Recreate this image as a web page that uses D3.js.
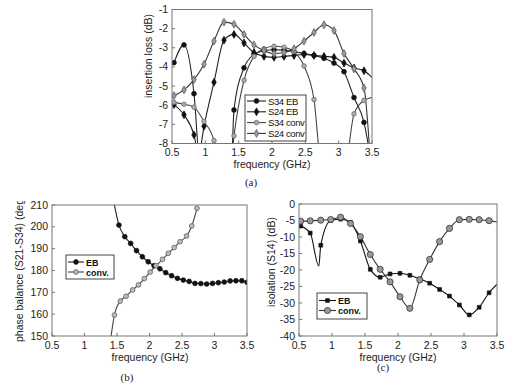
<!DOCTYPE html>
<html>
<head>
<meta charset="utf-8">
<script src="https://cdn.jsdelivr.net/npm/d3@7"></script>
<style>
  body { margin: 0; background: #fff; }
  svg { display: block; font-family: "Liberation Sans", Arial, sans-serif; }
  .tick-label { font-size: 10.5px; fill: #222; }
  .axis-title { font-size: 10.5px; fill: #222; }
  .panel-label { font-family: "Liberation Serif", "Times New Roman", serif; font-size: 11px; fill: #222; }
</style>
</head>
<body>
<svg id="chart" width="517" height="387"></svg>
<script>
// ---- data ----
// (a) insertion loss, markers every ~0.15 GHz
const freqA = [0.53, 0.68, 0.83, 0.98, 1.13, 1.28, 1.43, 1.58, 1.73, 1.88, 2.03, 2.18, 2.33, 2.48, 2.63, 2.78, 2.93, 3.08, 3.23, 3.38];
const s34EB   = [-3.78, -2.85, -5.4, null, null, null, -6.25, -4.05, -3.35, -3.15, -3.1, -3.12, -3.2, -3.3, -3.4, -3.55, -3.8, -4.25, -5.6, -6.9];
const s24EB   = [-5.97, -6.5, -7.55, -7.1, -4.8, -2.6, -2.3, -2.75, -3.25, -3.45, -3.5, -3.45, -3.4, -3.35, -3.4, -3.45, -3.5, -3.8, -4.05, -4.2];
const s34conv = [-5.85, -5.95, -6.1, -6.85, -7.85, null, -7.6, -4.7, -3.45, -3.05, -2.92, -2.97, -3.2, -3.95, -5.7, null, null, null, -6.45, -5.75];
const s24conv = [-5.5, -5.2, -4.66, -3.86, -2.65, -1.66, -1.77, -2.3, -2.85, -3.15, -3.3, -3.25, -3.05, -2.65, -2.2, -1.8, -2.1, -3.3, -4.1, -5.1];
// points where the curves leave the plot / end (no marker)
const s34EBOff   = [[0.92, -9], [1.39, -9], [3.47, -8.6]];
const s24EBOff   = [[0.9, -8.6], [3.5, -4.55]];
const s34convOff = [[1.2, -9.5], [1.37, -9.5], [2.74, -9], [3.1, -9], [3.5, -5.6]];
const s24convOff = [[3.47, -8.6]];

// (b) phase balance
const freqBeb   = [1.53, 1.62, 1.71, 1.80, 1.89, 1.98, 2.07, 2.16, 2.25, 2.34, 2.43, 2.52, 2.61, 2.70, 2.79, 2.88, 2.97, 3.06, 3.15, 3.24, 3.33, 3.42, 3.50];
const phaseEB   = [200.8, 195.5, 192.4, 189.1, 186.3, 184.0, 182.2, 180.8, 179.0, 177.6, 176.4, 175.6, 175.0, 174.1, 174.0, 173.8, 174.1, 174.4, 174.7, 175.2, 175.3, 175.3, 174.6];
const freqBconv = [1.46, 1.55, 1.64, 1.74, 1.83, 1.92, 2.01, 2.10, 2.20, 2.29, 2.38, 2.47, 2.57, 2.65, 2.73];
const phaseConv = [159.6, 166.0, 168.2, 171.1, 173.4, 176.3, 179.3, 182.2, 185.1, 187.9, 190.5, 193.2, 195.8, 200.4, 208.5];
const phaseEBOff   = [[1.44, 213]];
const phaseConvOff = [[1.40, 148]];

// (c) isolation
const freqC   = [0.525, 0.67, 0.83, 0.98, 1.13, 1.28, 1.43, 1.58, 1.73, 1.88, 2.03, 2.18, 2.33, 2.48, 2.63, 2.78, 2.93, 3.08, 3.23, 3.38];
const isoEB   = [-6.7, -8.8, -12.5, -5.0, -4.6, -5.6, -11.2, -19.8, -22.2, -21.2, -21.0, -21.6, -22.7, -24.0, -25.9, -27.9, -30.6, -33.6, -31.3, -26.9];
const isoConv = [-5.2, -5.1, -4.9, -4.7, -4.0, -5.9, -9.9, -15.3, -19.8, -23.6, -28.1, -31.6, -23.0, -16.8, -11.4, -7.4, -4.75, -4.65, -4.75, -5.05];
const isoEBOff   = [[0.8, -18.8], [3.5, -24.3]];
const isoConvOff = [[3.5, -5.45]];

const xTicks = [0.5, 1, 1.5, 2, 2.5, 3, 3.5];
const yTicksA = [-1, -2, -3, -4, -5, -6, -7, -8];
const yTicksB = [210, 200, 190, 180, 170, 160, 150];
const yTicksC = [0, -5, -10, -15, -20, -25, -30, -35, -40];

const svg = d3.select("#chart");

// build series from marker arrays + off-plot anchor points
function makeSeries(freqs, vals, extra) {
  const marks = freqs.map((f, i) => [f, vals[i]]).filter(d => d[1] !== null);
  const line = marks.concat(extra).sort((a, b) => a[0] - b[0]);
  return { marks, line };
}

function drawPanel(cfg) {
  const x = d3.scaleLinear().domain([0.5, 3.5]).range([cfg.left, cfg.right]);
  const y = d3.scaleLinear().domain(cfg.yDomain).range([cfg.bottom, cfg.top]);
  const g = svg.append("g");

  const clipId = "clip-" + cfg.id;
  svg.append("clipPath").attr("id", clipId)
    .append("rect")
    .attr("x", cfg.left).attr("y", cfg.top)
    .attr("width", cfg.right - cfg.left).attr("height", cfg.bottom - cfg.top);

  // ticks (inside) + labels
  xTicks.forEach(t => {
    g.append("line")
      .attr("x1", x(t)).attr("x2", x(t))
      .attr("y1", cfg.bottom).attr("y2", cfg.bottom - 3)
      .attr("stroke", "#777");
    g.append("text").attr("class", "tick-label")
      .attr("x", x(t)).attr("y", cfg.bottom + 12.5)
      .attr("text-anchor", "middle")
      .text(t);
  });
  cfg.yTicks.forEach(t => {
    g.append("line")
      .attr("x1", cfg.left).attr("x2", cfg.left + 3)
      .attr("y1", y(t)).attr("y2", y(t))
      .attr("stroke", "#777");
    g.append("text").attr("class", "tick-label")
      .attr("x", cfg.left - 4).attr("y", y(t) + 3.5)
      .attr("text-anchor", "end")
      .text(t);
  });

  const line = d3.line()
    .x(d => x(d[0])).y(d => y(d[1]))
    .curve(d3.curveMonotoneX);

  const plot = g.append("g").attr("clip-path", `url(#${clipId})`);
  cfg.series.forEach(s => {
    plot.append("path")
      .attr("d", line(s.data.line))
      .attr("fill", "none")
      .attr("stroke", s.lineColor)
      .attr("stroke-width", 1.1);
  });
  cfg.series.forEach(s => {
    const sym = d3.symbol().type(s.shape).size(s.size);
    plot.selectAll(null)
      .data(s.data.marks)
      .enter().append("path")
      .attr("d", sym)
      .attr("transform", d => `translate(${x(d[0])},${y(d[1])})`)
      .attr("fill", s.fill)
      .attr("stroke", s.stroke)
      .attr("stroke-width", 0.7);
  });

  // frame
  g.append("rect")
    .attr("x", cfg.left).attr("y", cfg.top)
    .attr("width", cfg.right - cfg.left).attr("height", cfg.bottom - cfg.top)
    .attr("fill", "none").attr("stroke", "#777").attr("stroke-width", 1);

  // axis titles
  g.append("text").attr("class", "axis-title")
    .attr("x", cfg.xTitlePos[0]).attr("y", cfg.xTitlePos[1])
    .attr("text-anchor", "middle")
    .text("frequency (GHz)");
  let ytHolder = g;
  if (cfg.yTitleClip) {
    svg.append("clipPath").attr("id", "ytclip-" + cfg.id)
      .append("rect").attr("x", 0).attr("y", cfg.yTitleClip).attr("width", 517).attr("height", 387);
    ytHolder = g.append("g").attr("clip-path", `url(#ytclip-${cfg.id})`);
  }
  ytHolder.append("text").attr("class", "axis-title")
    .attr("transform", `translate(${cfg.yTitlePos[0]},${cfg.yTitlePos[1]}) rotate(-90)`)
    .attr("text-anchor", cfg.yTitleAnchor || "middle")
    .text(cfg.yTitle);

  g.append("text").attr("class", "panel-label")
    .attr("x", cfg.labelPos[0]).attr("y", cfg.labelPos[1])
    .attr("text-anchor", "middle")
    .text(cfg.label);

  // legend
  const L = cfg.legend;
  g.append("rect")
    .attr("x", L.x).attr("y", L.y).attr("width", L.w).attr("height", L.h)
    .attr("fill", "#fff").attr("stroke", "#444").attr("stroke-width", 1);
  cfg.series.forEach((s, i) => {
    const ry = L.y + L.first + i * L.step;
    g.append("line")
      .attr("x1", L.x + 2).attr("x2", L.x + 2 + L.lineLen)
      .attr("y1", ry).attr("y2", ry)
      .attr("stroke", s.lineColor).attr("stroke-width", 1.1);
    g.append("path")
      .attr("d", d3.symbol().type(s.shape).size(s.size)())
      .attr("transform", `translate(${L.x + 2 + L.lineLen / 2},${ry})`)
      .attr("fill", s.fill).attr("stroke", s.stroke).attr("stroke-width", 0.7);
    g.append("text")
      .attr("x", L.x + 4 + L.lineLen).attr("y", ry + 3.5)
      .attr("font-size", L.fontSize)
      .attr("font-weight", L.bold ? "bold" : "normal")
      .attr("letter-spacing", L.spacing || 0)
      .attr("fill", "#111")
      .text(s.name);
  });
}

drawPanel({
  id: "a", left: 172, right: 372, top: 9.5, bottom: 143.5,
  yDomain: [-8, -1], yTicks: yTicksA,
  xTitlePos: [272, 168], yTitlePos: [152, 56], yTitle: "insertion loss (dB)",
  label: "(a)", labelPos: [251, 186],
  legend: { x: 245, y: 95, w: 61, h: 46, first: 6, step: 10.8, lineLen: 19, fontSize: 9.5, spacing: -0.4 },
  series: [
    { name: "S34 EB",   data: makeSeries(freqA, s34EB, s34EBOff),     shape: d3.symbolCircle,  size: 18, fill: "#111", stroke: "#111", lineColor: "#222" },
    { name: "S24 EB",   data: makeSeries(freqA, s24EB, s24EBOff),     shape: d3.symbolDiamond, size: 18, fill: "#111", stroke: "#111", lineColor: "#222" },
    { name: "S34 conv", data: makeSeries(freqA, s34conv, s34convOff), shape: d3.symbolCircle,  size: 17, fill: "#aaa", stroke: "#666", lineColor: "#444" },
    { name: "S24 conv", data: makeSeries(freqA, s24conv, s24convOff), shape: d3.symbolDiamond, size: 18, fill: "#999", stroke: "#555", lineColor: "#333" }
  ]
});

drawPanel({
  id: "b", left: 52, right: 247, top: 205, bottom: 336,
  yDomain: [150, 210], yTicks: yTicksB,
  xTitlePos: [150, 360.5], yTitlePos: [23, 342], yTitleAnchor: "start", yTitleClip: 201,
  yTitle: "phase balance (S21-S34) (deg)",
  label: "(b)", labelPos: [127, 381],
  legend: { x: 66, y: 255, w: 48, h: 24, first: 7, step: 10, lineLen: 16, fontSize: 9, bold: true },
  series: [
    { name: "EB",    data: makeSeries(freqBeb, phaseEB, phaseEBOff),       shape: d3.symbolCircle, size: 18, fill: "#111", stroke: "#111", lineColor: "#222" },
    { name: "conv.", data: makeSeries(freqBconv, phaseConv, phaseConvOff), shape: d3.symbolCircle, size: 18, fill: "#bbb", stroke: "#555", lineColor: "#444" }
  ]
});

drawPanel({
  id: "c", left: 299, right: 497, top: 204, bottom: 336,
  yDomain: [-40, 0], yTicks: yTicksC,
  xTitlePos: [398, 360.5], yTitlePos: [275, 262], yTitle: "isolation (S14) (dB)",
  label: "(c)", labelPos: [383, 371],
  legend: { x: 317, y: 293, w: 50, h: 26, first: 7.5, step: 10, lineLen: 17, fontSize: 9, bold: true },
  series: [
    { name: "EB",    data: makeSeries(freqC, isoEB, isoEBOff),     shape: d3.symbolSquare, size: 14, fill: "#111", stroke: "#111", lineColor: "#111" },
    { name: "conv.", data: makeSeries(freqC, isoConv, isoConvOff), shape: d3.symbolCircle, size: 30, fill: "#999", stroke: "#222", lineColor: "#333" }
  ]
});
</script>
</body>
</html>
